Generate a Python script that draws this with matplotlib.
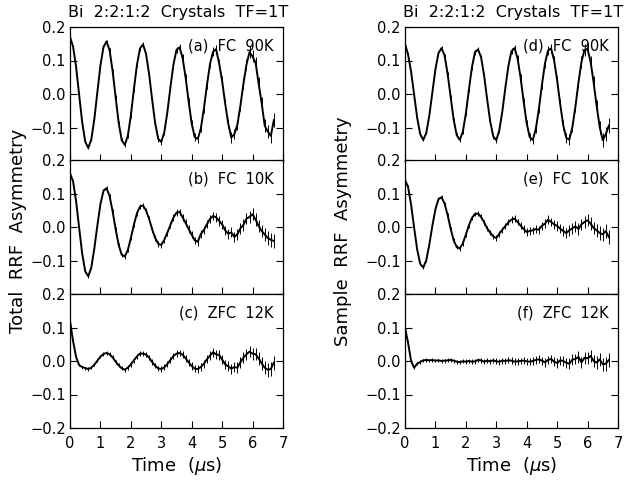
import numpy as np
import matplotlib
matplotlib.use("Agg")
import matplotlib.pyplot as plt

# time grid (µs)
time = np.round(np.arange(68) * 0.1, 1)

# Total RRF asymmetry
fc90_total = [
    .170, .142, .081, -.002, -.084, -.142, -.161, -.136, -.075, .006,
    .085, .140, .157, .131, .069, -.010, -.086, -.138, -.152, -.125,
    -.064, .014, .087, .136, .148, .119, .059, -.017, -.088, -.134,
    -.143, -.114, -.054, .020, .088, .132, .139, .108, .049, -.023,
    -.089, -.129, -.134, -.103, -.044, .026, .089, .126, .134, .092,
    .039, -.029, -.088, -.130, -.120, -.092, -.035, .031, .088, .125,
    .112, .093, .031, -.028, -.095, -.112, -.125, -.078]
fc10_total = [
    .160, .137, .077, -.002, -.079, -.132, -.147, -.121, -.064, .005,
    .068, .108, .116, .093, .047, -.007, -.054, -.083, -.088, -.069,
    -.033, .007, .041, .061, .064, .049, .024, -.007, -.033, -.050,
    -.054, -.038, -.017, .006, .028, .043, .045, .029, .012, -.006,
    -.023, -.040, -.044, -.021, -.009, .008, .024, .033, .029, .018,
    .008, -.010, -.020, -.016, -.030, -.022, -.004, .006, .025, .030,
    .038, .022, .003, -.012, -.022, -.033, -.038, -.042]
zfc12_total = [
    .120, .060, .012, -.012, -.018, -.021, -.024, -.020, -.011, .001,
    .013, .021, .024, .020, .011, -.002, -.013, -.022, -.026, -.020,
    -.010, .002, .014, .022, .022, .019, .010, -.003, -.014, -.022,
    -.024, -.019, -.009, .003, .015, .022, .024, .019, .008, -.004,
    -.015, -.023, -.024, -.018, -.008, .005, .016, .026, .020, .018,
    .004, -.010, -.016, -.023, -.018, -.020, -.004, .010, .020, .028,
    .022, .020, .008, -.007, -.020, -.026, -.024, -.005]

# Sample RRF asymmetry
fc90_sample = [
    .150, .118, .067, -.002, -.071, -.120, -.137, -.116, -.064, .005,
    .074, .122, .137, .115, .061, -.009, -.077, -.123, -.137, -.113,
    -.058, .013, .080, .125, .133, .110, .055, -.016, -.082, -.126,
    -.138, -.108, -.051, .020, .085, .128, .137, .106, .048, -.023,
    -.088, -.129, -.137, -.104, -.045, .027, .091, .130, .136, .101,
    .041, -.030, -.093, -.131, -.136, -.099, -.038, .034, .096, .132,
    .134, .096, .034, -.037, -.099, -.138, -.120, -.094]
fc10_sample = [
    .140, .120, .067, -.002, -.067, -.110, -.121, -.099, -.052, .004,
    .053, .083, .089, .070, .036, -.005, -.040, -.060, -.064, -.049,
    -.023, .005, .027, .039, .040, .030, .014, -.004, -.017, -.028,
    -.033, -.020, -.008, .003, .014, .022, .025, .015, .004, -.006,
    -.015, -.012, -.010, -.006, -.008, .004, .010, .022, .015, .008,
    .003, -.005, -.012, -.018, -.010, -.004, .002, -.006, .008, .015,
    .020, .010, -.003, -.010, -.018, -.022, -.012, -.030]
zfc12_sample = [
    .100, .055, .000, -.020, -.008, -.003, .002, .003, .002, .003,
    .001, .002, .000, .001, .002, .003, .001, -.002, -.003, -.001,
    -.002, .000, -.002, -.001, .003, .002, -.002, .001, -.001, .002,
    -.001, -.002, .001, .000, .002, .001, -.002, -.001, .000, .001,
    -.001, -.002, .000, .003, .005, .001, -.004, .003, .006, -.002,
    -.006, .002, .000, -.005, -.008, .004, .006, .012, -.004, .010,
    .008, .015, .000, -.005, .005, -.010, -.008, .003]

# statistical errors
errors = [
    .0040, .0041, .0042, .0043, .0044,
    .0045, .0046, .0047, .0048, .0050,
    .0051, .0052, .0054, .0055, .0057,
    .0058, .0060, .0061, .0063, .0064,
    .0066, .0068, .0070, .0071, .0073,
    .0075, .0077, .0079, .0081, .0083,
    .0085, .0087, .0089, .0092, .0094,
    .0096, .0099, .0101, .0104, .0106,
    .0109, .0112, .0114, .0117, .0120,
    .0123, .0126, .0130, .0133, .0137,
    .0140, .0144, .0147, .0151, .0155,
    .0158, .0162, .0167, .0171, .0175,
    .0179, .0184, .0189, .0193, .0198,
    .0203, .0208, .0214]

title = "Bi  2:2:1:2  Crystals  TF=1T"
labels_left = ["(a)  FC  90K", "(b)  FC  10K", "(c)  ZFC  12K"]
labels_right = ["(d)  FC  90K", "(e)  FC  10K", "(f)  ZFC  12K"]
ylabel_left = "Total  RRF  Asymmetry"
ylabel_right = "Sample  RRF  Asymmetry"
xlabel = "Time  ($\\mu$s)"

W, H = 635, 483
fig = plt.figure(figsize=(W / 100, H / 100), dpi=100)

panel_bottoms_px = [161, 294, 428]
panel_h_px = 134
col_left_px = [70, 405]
col_w_px = 213
ylabel_x_px = [18, 343]

FS = 10.5


def fmt(v):
    s = "%.1f" % abs(v)
    return ("\u2212" + s) if v < 0 else s


def draw_panel(ax, y, label, is_bottom):
    ax.errorbar(time, y, yerr=errors, fmt='none', ecolor='black',
                elinewidth=0.7, capsize=0)
    ax.plot(time, y, color='black', lw=1.4)
    ax.set_xlim(0, 7)
    ax.set_ylim(-0.2, 0.2)
    ax.set_xticks(range(8))
    if is_bottom:
        ticks = [-0.2, -0.1, 0.0, 0.1, 0.2]
        ax.set_xticklabels([str(i) for i in range(8)], fontsize=FS)
    else:
        ticks = [-0.1, 0.0, 0.1, 0.2]
        ax.set_xticklabels([])
    ax.set_yticks(ticks)
    ax.set_yticklabels([fmt(v) for v in ticks], fontsize=FS)
    ax.tick_params(direction='in', length=5, width=0.8, right=True,
                   top=False, pad=3)
    ax.tick_params(axis='x', pad=6)
    for sp in ax.spines.values():
        sp.set_linewidth(0.9)
    ax.text(0.955, 0.86, label, transform=ax.transAxes, ha='right',
            va='center', fontsize=FS)


cols = [
    ([fc90_total, fc10_total, zfc12_total], labels_left, ylabel_left),
    ([fc90_sample, fc10_sample, zfc12_sample], labels_right, ylabel_right),
]

for ci, (series, labs, ylab) in enumerate(cols):
    x0 = col_left_px[ci]
    for pi in range(3):
        b = panel_bottoms_px[pi]
        ax = fig.add_axes([x0 / W, 1 - b / H, col_w_px / W, panel_h_px / H])
        draw_panel(ax, series[pi], labs[pi], pi == 2)
    cx = (x0 + col_w_px / 2) / W
    fig.text(cx + 2 / W, 1 - 12 / H, title, ha='center', va='center',
             fontsize=11.5)
    fig.text(cx, 1 - 466 / H, xlabel, ha='center', va='center', fontsize=13)
    fig.text(ylabel_x_px[ci] / W, 1 - 231 / H, ylab, rotation=90,
             ha='center', va='center', fontsize=13)

fig.savefig("out.png", dpi=100)
